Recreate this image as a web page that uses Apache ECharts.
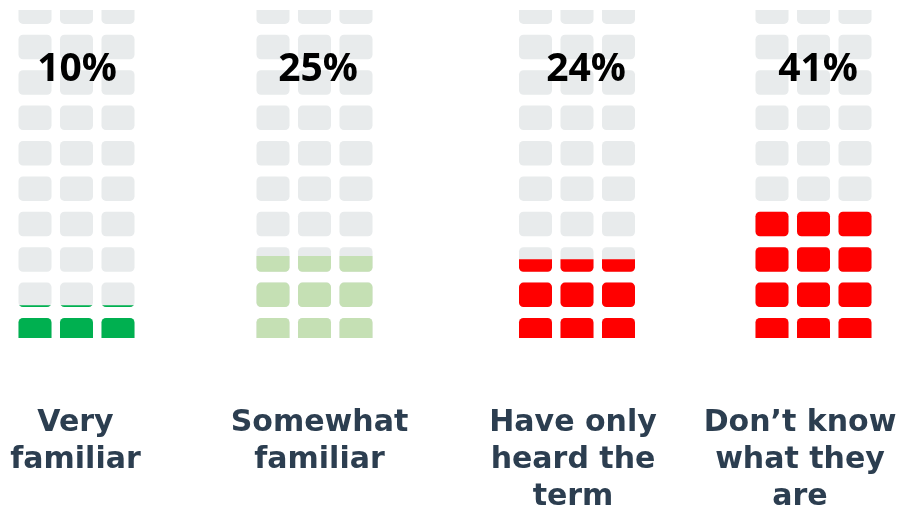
<!DOCTYPE html>
<html>
<head>
<meta charset="utf-8">
<script src="https://cdn.jsdelivr.net/npm/echarts@6/dist/echarts.min.js"></script>
<style>
  html, body { margin: 0; padding: 0; background: #ffffff; }
  #chart { width: 903px; height: 511px; }
</style>
</head>
<body>
<div id="chart"></div>
<script>
// Survey answers: share of respondents per familiarity level (%)
const categories = ['Very\nfamiliar', 'Somewhat\nfamiliar', 'Have only\nheard the\nterm', 'Don\u2019t know\nwhat they\nare'];
const shares = [10, 25, 24, 41];
const fillColors = ['#00B050', '#C5E0B4', '#FF0000', '#FF0000'];
const subColumns = ['a', 'b', 'c'];

// Layout constants
const groupCenters = [76.5, 314.5, 577, 813.5];
const pctCenters = [77, 318, 586, 818];
const labelCenters = [75.5, 319.5, 573, 800];
const gridTop = 10, gridBottomY = 338, W = 903, H = 511;
const blockW = 33, blockH = 24.5, colPitch = 41.5, rowPitch = 35.4, rows = 10;
const pxPerUnit = (gridBottomY - gridTop) / 100;
const stackPx = rows * blockH + (rows - 1) * (rowPitch - blockH);
const bounding = stackPx / pxPerUnit;
const shiftDown = 4.5;
const grey = '#E8EBEC';

// Rounded block drawn at its own pixel size so the corner radius stays small
const r = 4.5;
const blockPath = 'path://M' + r + ',0H' + (blockW - r) + 'A' + r + ',' + r + ' 0 0 1 ' + blockW + ',' + r +
  'V' + (blockH - r) + 'A' + r + ',' + r + ' 0 0 1 ' + (blockW - r) + ',' + blockH +
  'H' + r + 'A' + r + ',' + r + ' 0 0 1 0,' + (blockH - r) + 'V' + r + 'A' + r + ',' + r + ' 0 0 1 ' + r + ',0Z';

const grids = [], xAxes = [], yAxes = [], series = [], graphics = [];

shares.forEach((v, i) => {
  const gw = colPitch * 3;
  grids.push({ left: groupCenters[i] - gw / 2, width: gw, top: gridTop, bottom: H - gridBottomY });
  xAxes.push({ type: 'category', gridIndex: i, data: subColumns, show: false });
  yAxes.push({ type: 'value', gridIndex: i, min: 0, max: 100, show: false });
  const common = {
    type: 'pictorialBar',
    xAxisIndex: i, yAxisIndex: i,
    symbol: blockPath,
    symbolKeepAspect: false,
    symbolSize: [blockW, blockH],
    symbolRepeat: rows,
    symbolClip: true,
    symbolBoundingData: bounding,
    symbolOffset: [0, shiftDown],
    animation: false,
    silent: true
  };
  series.push(Object.assign({}, common, {
    z: 1,
    itemStyle: { color: grey },
    data: subColumns.map(() => 100)
  }));
  series.push(Object.assign({}, common, {
    z: 2,
    itemStyle: { color: fillColors[i] },
    data: subColumns.map(() => v)
  }));
  graphics.push({
    type: 'text', z: 10,
    style: {
      text: v + '%', x: pctCenters[i], y: 70,
      textAlign: 'center', textVerticalAlign: 'middle',
      font: 'bold 39px "Open Sans"', fill: '#000000'
    }
  });
  graphics.push({
    type: 'text', z: 10,
    style: {
      text: categories[i], x: labelCenters[i], y: 405,
      textAlign: 'center', textVerticalAlign: 'top',
      font: 'bold 30px "DejaVu Sans"', lineHeight: 37, fill: '#2C3E50'
    }
  });
});

const chart = echarts.init(document.getElementById('chart'), null, { renderer: 'canvas' });
chart.setOption({
  backgroundColor: '#ffffff',
  animation: false,
  grid: grids,
  xAxis: xAxes,
  yAxis: yAxes,
  series: series,
  graphic: graphics
});
</script>
</body>
</html>
